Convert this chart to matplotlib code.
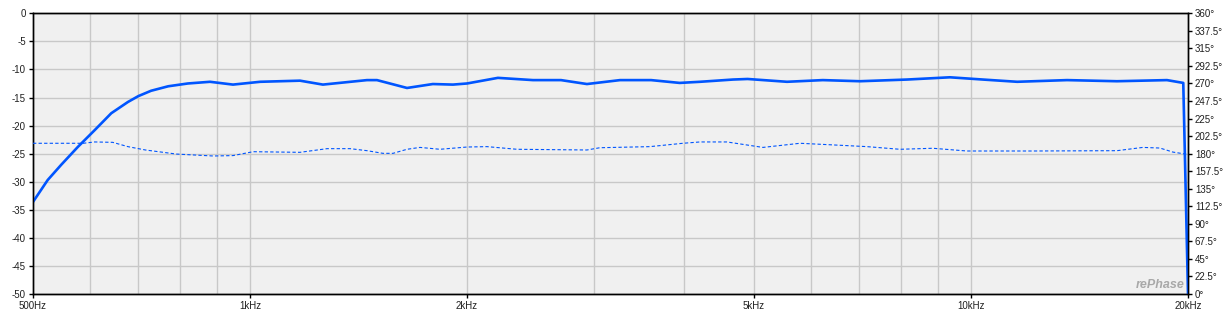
import numpy as np
import matplotlib
matplotlib.use("Agg")
import matplotlib.pyplot as plt
from matplotlib.ticker import FixedLocator, NullLocator

# magnitude response (dB)
mag_freq = [500, 524, 547, 577, 609, 642, 677, 700, 729, 770, 820, 880, 947,
            1033, 1173, 1262, 1453, 1500, 1651, 1793, 1912, 2000, 2207, 2469,
            2700, 2933, 3260, 3600, 3944, 4210, 4675, 4900, 5557, 6230, 7015,
            8150, 9350, 10390, 11590, 13590, 15940, 18700, 19700, 20000]
mag_db = [-33.6, -29.7, -27.0, -23.8, -20.8, -17.8, -15.8, -14.75, -13.8,
          -13.0, -12.5, -12.2, -12.7, -12.2, -12.0, -12.7, -11.9, -11.9,
          -13.3, -12.6, -12.7, -12.5, -11.5, -11.9, -11.9, -12.6, -11.9, -11.9,
          -12.4, -12.2, -11.8, -11.7, -12.2, -11.9, -12.1, -11.8, -11.4, -11.8,
          -12.2, -11.9, -12.1, -11.9, -12.4, -50.0]

# phase (degrees), right axis
ph_freq = [500, 587, 609, 645, 677, 716, 790, 889, 947, 1010, 1173, 1279, 1377,
           1453, 1529, 1579, 1651, 1721, 1834, 2000, 2131, 2346, 2933, 3057,
           3587, 3985, 4210, 4587, 5146, 5792, 6313, 7173, 7970, 8853, 9871,
           12190, 15940, 17315, 18285, 19060, 20000]
ph_deg = [193.3, 193.3, 195.0, 194.5, 189.0, 184.7, 179.5, 177.0, 177.5, 182.5,
          181.7, 186.4, 186.4, 183.8, 180.4, 180.4, 185.6, 188.0, 185.6, 188.5,
          189.0, 185.6, 184.7, 187.6, 189.0, 193.3, 195.0, 195.0, 188.0, 193.3,
          191.6, 189.0, 185.6, 186.9, 183.4, 183.4, 183.8, 188.0, 187.2, 182.0,
          179.0]

x_ticks = [500, 1000, 2000, 5000, 10000, 20000]
x_labels = ["500Hz", "1kHz", "2kHz", "5kHz", "10kHz", "20kHz"]
x_grid = [600, 700, 800, 900, 1000, 2000, 3000, 4000, 5000, 6000, 7000, 8000,
          9000, 10000]
db_ticks = list(range(0, -55, -5))
deg_ticks = [0, 22.5, 45, 67.5, 90, 112.5, 135, 157.5, 180, 202.5, 225, 247.5,
             270, 292.5, 315, 337.5, 360]

plt.rcParams['font.family'] = ['Liberation Sans', 'DejaVu Sans']
blue = '#0055ff'

fig = plt.figure(figsize=(12.32, 3.13), dpi=100)
ax = fig.add_axes([33 / 1232, 1 - 294 / 313, 1155 / 1232, 280.7 / 313])
ax.set_facecolor('#f0f0f0')
ax.set_xscale('log')
ax.set_xlim(500, 20000)
ax.set_ylim(-50, 0)

for f in x_grid:
    ax.axvline(f, color='#c8c8c8', lw=1.0, zorder=0)
for d in db_ticks:
    ax.axhline(d, color='#c8c8c8', lw=1.0, zorder=0)

ax.plot(mag_freq, mag_db, color=blue, lw=1.9, zorder=3, clip_on=True,
        solid_joinstyle='round')

ax.xaxis.set_major_locator(FixedLocator(x_ticks))
ax.xaxis.set_minor_locator(NullLocator())
ax.set_xticklabels(x_labels)
ax.set_yticks(db_ticks)
ax.set_yticklabels([str(d) for d in db_ticks])
ax.tick_params(axis='both', labelsize=7, length=3, width=1, color='black',
               labelcolor='#202020', pad=2)

ax2 = ax.twinx()
ax2.set_ylim(0, 360)
ax2.set_yticks(deg_ticks)
ax2.set_yticklabels([('%g' % d) + '\u00b0' for d in deg_ticks])
ax2.tick_params(axis='y', labelsize=7, length=3, width=1, labelcolor='#202020',
                pad=2)
ax2.plot(ph_freq, ph_deg, color=blue, lw=0.8, ls=(0, (3, 2)), zorder=3)

for a in (ax, ax2):
    for s in a.spines.values():
        s.set_color('black')
        s.set_linewidth(1.0)

ax.text(0.997, 0.012, 'rePhase', transform=ax.transAxes, ha='right',
        va='bottom', fontsize=9, fontweight='bold', style='italic',
        color='#a8a8a8', zorder=5)

fig.savefig('out.png', dpi=100)
